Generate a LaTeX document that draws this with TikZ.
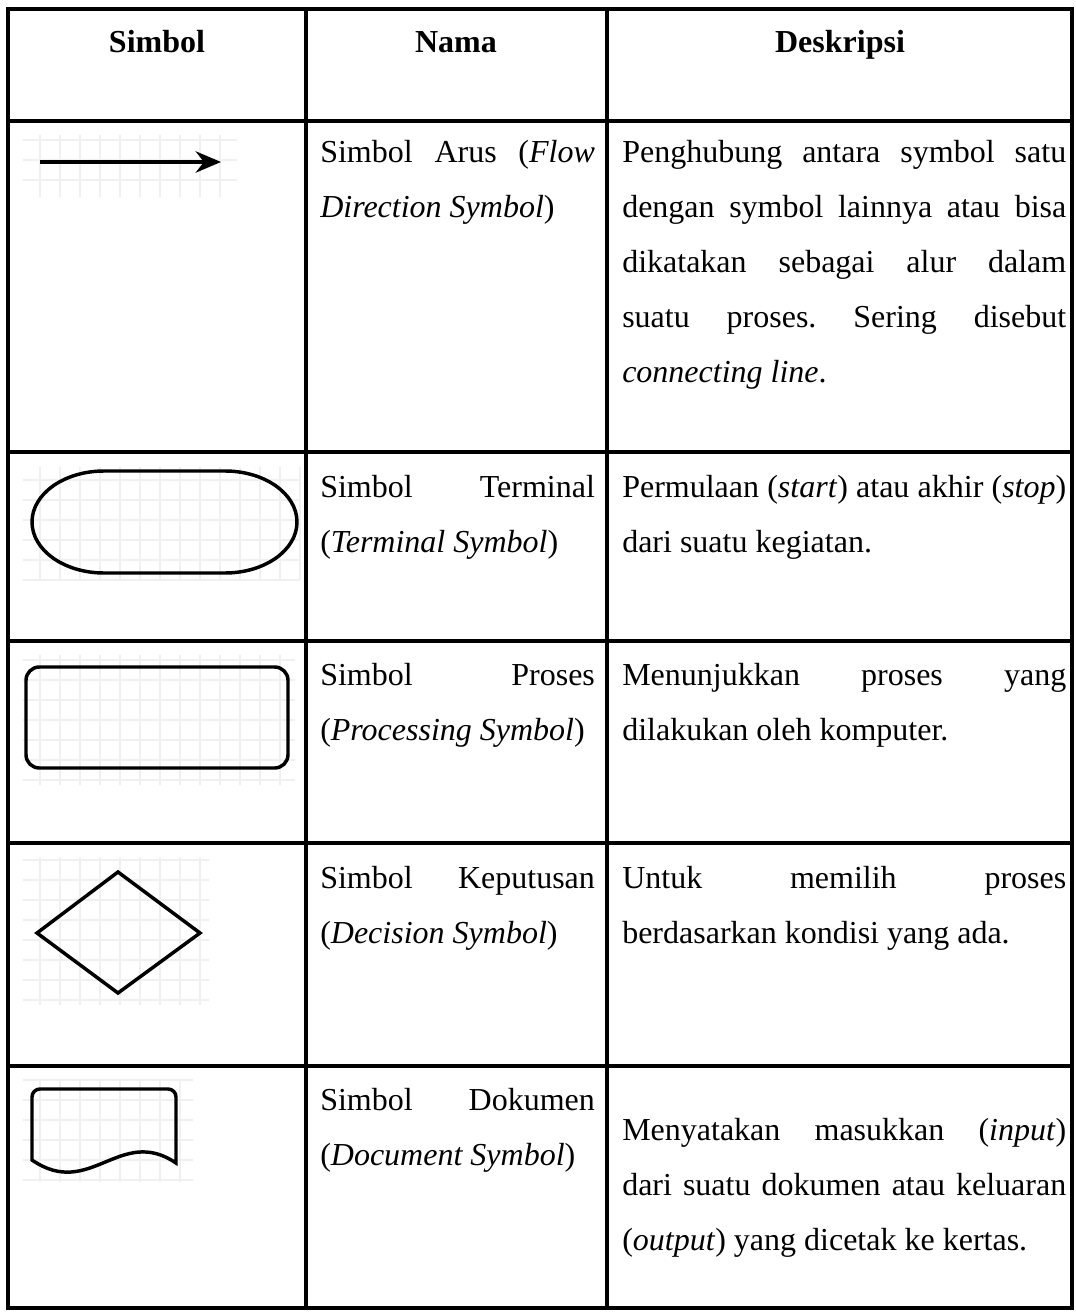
\documentclass[tikz,border=0pt]{standalone}
\usepackage{fontspec}
\setmainfont{Liberation Serif}
\usepackage{tikz}
\usetikzlibrary{arrows.meta}

\newcommand{\celltext}{\fontsize{24}{41.25}\selectfont\hyphenpenalty=10000 \frenchspacing}

\begin{document}
\begin{tikzpicture}[x=0.75pt,y=0.75pt,
		tableline/.style={line width=2.4pt},
		symline/.style={line width=2.6pt},
		gridline/.style={draw=black!6,line width=1pt},
		head/.style={anchor=base,inner sep=0pt,font=\celltext\bfseries},
		cell/.style={anchor=base west,inner sep=0pt,align=justify,font=\celltext},
		namecell/.style={cell,text width=206pt},
		desccell/.style={cell,text width=333pt}]
			\useasboundingbox (0,0) rectangle (1075,-1312);
			
			\draw[tableline] (8,-9) rectangle (1072,-1308);
			\draw[tableline] (306,-9) -- (306,-1308) (607,-9) -- (607,-1308);
			\draw[tableline] (8,-121) -- (1072,-121) (8,-452) -- (1072,-452) (8,-641) -- (1072,-641);
			\draw[tableline] (8,-843) -- (1072,-843) (8,-1066) -- (1072,-1066);
			
			\node[head] (H1) at (157,-53) {Simbol};
			\node[head] (H2) at (456,-53) {Nama};
			\node[head] (H3) at (840,-53) {Deskripsi};
			
			\draw[gridline] (23,-135) grid[step=20] (237,-197);
			\coordinate (P) at (40,-162);
			\coordinate (Q) at (221,-162);
			\draw[symline,-{Stealth[length=19pt,width=16pt]}] (P) -- (Q);
			\node[namecell] (N1) at (320,-163) {Simbol Arus (\textit{Flow}\linebreak \textit{Direction Symbol})};
			\node[desccell] (D1) at (622,-163) {Penghubung antara symbol satu\linebreak dengan symbol lainnya atau bisa\linebreak dikatakan sebagai alur dalam\linebreak suatu proses. Sering disebut\linebreak \textit{connecting line}.};
			
			\draw[gridline] (23,-467) grid[step=20] (300,-580);
			\draw[symline] (104,-471) -- (225,-471) arc[start angle=90,end angle=-90,x radius=72,y radius=51] -- (104,-573) arc[start angle=270,end angle=90,x radius=72,y radius=51] -- cycle;
			\node[namecell] (N2) at (320,-497) {Simbol Terminal\linebreak (\textit{Terminal Symbol})};
			\node[desccell] (D2) at (622,-497) {Permulaan (\textit{start}) atau akhir (\textit{stop}) dari suatu kegiatan.};
			
			\draw[gridline] (23,-655) grid[step=20] (295,-785);
			\draw[symline,rounded corners=10pt] (26,-667) rectangle (288,-768);
			\node[namecell] (N3) at (320,-685) {Simbol Proses\linebreak (\textit{Processing Symbol})};
			\node[desccell] (D3) at (622,-685) {Menunjukkan proses yang\linebreak dilakukan oleh komputer.};
			
			\draw[gridline] (23,-857) grid[step=20] (209,-1005);
			\draw[symline] (118,-872) -- (200,-933) -- (118,-993) -- (37,-933) -- cycle;
			\node[namecell] (N4) at (320,-888) {Simbol Keputusan\linebreak (\textit{Decision Symbol})};
			\node[desccell] (D4) at (622,-888) {Untuk memilih proses\linebreak berdasarkan kondisi yang ada.};
			
			\draw[gridline] (23,-1080) grid[step=20] (193,-1182);
			\draw[symline] (32,-1160) -- (32,-1097) arc[start angle=180,end angle=90,radius=8] -- (168,-1089) arc[start angle=90,end angle=0,radius=8] -- (176,-1163) .. controls (120,-1125) and (90,-1200) .. (32,-1160) -- cycle;
			\node[namecell] (N5) at (320,-1110) {Simbol Dokumen\linebreak (\textit{Document Symbol})};
			\node[desccell] (D5) at (622,-1140) {Menyatakan masukkan (\textit{input})\linebreak dari suatu dokumen atau keluaran\linebreak (\textit{output}) yang dicetak ke kertas.};
		\end{tikzpicture}
\end{document}
